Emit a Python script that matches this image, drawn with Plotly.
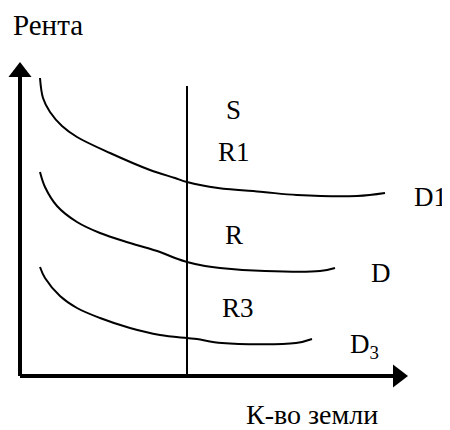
import plotly.graph_objects as go

# Demand curves (quantity of land vs. rent)
d1_q = [2.0, 2.3, 3.0, 4.2, 5.7, 9.0, 13.0, 15.5, 16.7, 19.8, 24.3, 27.7, 33.7, 36.5]
d1_r = [29.8, 27.8, 26.4, 25.0, 23.9, 22.3, 20.6, 19.8, 19.4, 18.8, 18.4, 18.1, 18.0, 18.3]

d_q = [2.0, 2.5, 3.7, 5.7, 8.0, 11.0, 14.0, 15.5, 16.7, 18.5, 20.0, 24.5, 30.0, 31.5]
d_r = [20.4, 18.9, 17.0, 15.4, 14.3, 13.3, 12.4, 11.8, 11.4, 11.0, 10.8, 10.5, 10.5, 10.8]

d3_q = [2.0, 2.5, 4.0, 5.7, 8.0, 11.0, 14.0, 16.7, 17.7, 20.2, 27.6, 29.2]
d3_r = [10.9, 9.8, 8.0, 6.8, 5.8, 4.8, 4.1, 3.8, 3.7, 3.3, 3.3, 3.7]

# Fixed supply of land
s_q = [16.7, 16.7]
s_r = [0.0, 29.0]

# Axis extents
x_axis_end = 38.8
y_axis_end = 31.4

# Text labels and their anchor points
label_text = ["S", "R1", "D1", "R", "D", "R3", "D<sub>3</sub>"]
label_q = [21.3, 21.4, 41.0, 21.4, 36.1, 21.8, 34.4]
label_r = [26.6, 22.4, 17.9, 14.1, 10.3, 6.8, 3.0]

y_title = "Рента"
y_title_pos = (2.8, 35.1)
x_title = "К-во земли"
x_title_pos = (29.2, -3.8)

FONT = "Liberation Serif"
fig = go.Figure()

for q, r in [(d1_q, d1_r), (d_q, d_r), (d3_q, d3_r)]:
    fig.add_trace(go.Scatter(x=q, y=r, mode="lines",
                             line=dict(color="black", width=2, shape="spline", smoothing=1.0),
                             hoverinfo="skip", showlegend=False))

fig.add_trace(go.Scatter(x=s_q, y=s_r, mode="lines",
                         line=dict(color="black", width=2),
                         hoverinfo="skip", showlegend=False))

# Axes with arrowheads (triangle tip sits 1.0 unit beyond marker centre)
fig.add_trace(go.Scatter(x=[0, 0], y=[0, y_axis_end - 1.0], mode="lines",
                         line=dict(color="black", width=4),
                         hoverinfo="skip", showlegend=False))
fig.add_trace(go.Scatter(x=[0, x_axis_end - 1.0], y=[0, 0], mode="lines",
                         line=dict(color="black", width=4),
                         hoverinfo="skip", showlegend=False))
fig.add_trace(go.Scatter(x=[0], y=[y_axis_end - 1.0], mode="markers",
                         marker=dict(symbol="triangle-up", size=20,
                                     color="black", line=dict(width=0)),
                         hoverinfo="skip", showlegend=False))
fig.add_trace(go.Scatter(x=[x_axis_end - 1.0], y=[0], mode="markers",
                         marker=dict(symbol="triangle-right", size=20,
                                     color="black", line=dict(width=0)),
                         hoverinfo="skip", showlegend=False))

for t, q, r in zip(label_text, label_q, label_r):
    fig.add_annotation(x=q, y=r, text=t, showarrow=False, xanchor="center", yanchor="middle",
                       font=dict(family=FONT, size=27, color="black"))

fig.add_annotation(x=y_title_pos[0], y=y_title_pos[1], text=y_title, showarrow=False,
                   xanchor="center", yanchor="middle", font=dict(family=FONT, size=29, color="black"))
fig.add_annotation(x=x_title_pos[0], y=x_title_pos[1], text=x_title, showarrow=False,
                   xanchor="center", yanchor="middle", font=dict(family=FONT, size=28, color="black"))

fig.update_layout(
    width=442, height=422,
    margin=dict(l=0, r=0, t=0, b=0),
    paper_bgcolor="white", plot_bgcolor="white",
    xaxis=dict(range=[-1.2, 43], visible=False, fixedrange=True),
    yaxis=dict(range=[-5.4, 36.8], visible=False, fixedrange=True),
)

fig.write_html("out.html")
